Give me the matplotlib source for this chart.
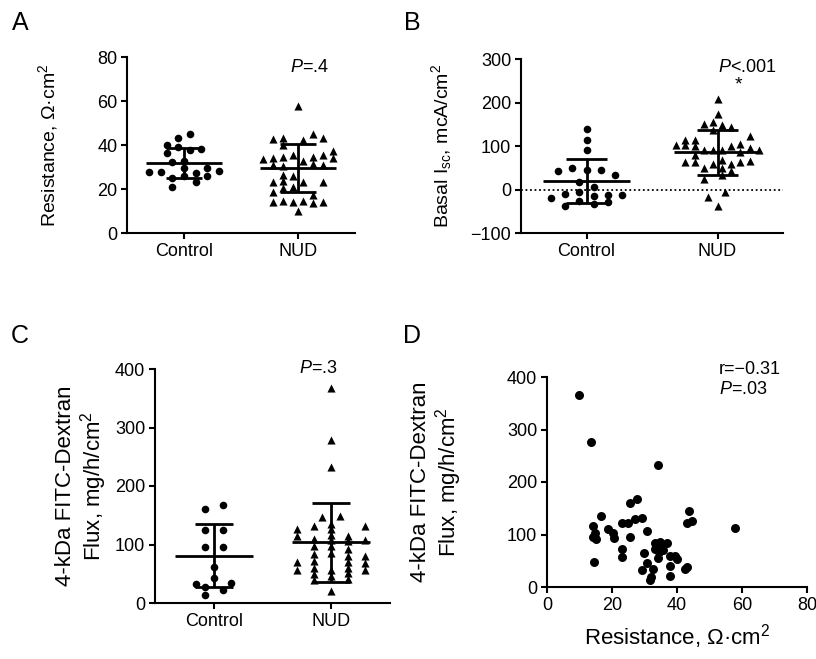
import numpy as np
import matplotlib
matplotlib.use("Agg")
import matplotlib.pyplot as plt

plt.rcParams['font.family'] = ['Liberation Sans', 'DejaVu Sans']
plt.rcParams['mathtext.fontset'] = 'custom'
plt.rcParams['mathtext.rm'] = 'Liberation Sans'
plt.rcParams['mathtext.it'] = 'Liberation Sans:italic'

groups = ['Control', 'NUD']

# A: resistance (value, swarm column)
a_ctrl = [45.0, 43.0, 39.8, 39.2, 37.7, 38.0, 36.2, 32.8, 32.2, 27.8,
          27.8, 28.1, 29.4, 29.7, 27.1, 25.2, 25.9, 25.9, 23.4, 21.0]
a_ctrl_col = [1, -1, -3, -1, 1, 3, -3, 0, -2, -6, -4, 6, 0, 4, 2, -2, 0, 4, 2, -2]
a_nud = [57.7, 42.7, 43.3, 40.0, 42.3, 44.9, 43.3, 33.6, 34.2, 34.7, 35.5, 32.7,
         34.7, 35.5, 37.3, 34.0, 30.9, 30.6, 31.2, 30.9, 26.4, 23.0, 23.6, 25.9,
         23.0, 23.0, 18.8, 20.6, 21.0, 14.0, 14.5, 14.0, 14.5, 17.3, 13.5, 14.0, 10.0]
a_nud_col = [0, -2.5, -1.5, -1.5, 0.5, 1.5, 2.5, -3.5, -2.5, -1.5, -0.5, 0.5,
             1.5, 2.5, 3.5, 3.5, -2.5, -1.5, 1.5, 2.5, -1.5, -2.5, -1.5, -0.5,
             0.5, 2.5, -2.5, -1.5, -0.5, -2.5, -1.5, -0.5, 0.5, 1.5, 1.5, 2.5, 0]
a_mean = [31.8, 29.4]
a_sd = [6.7, 10.95]

# B: basal Isc
b_ctrl = [138.5, 113, 90, 42.3, 50, 43.8, 43.8, 33.8, 16.9, 5.4,
          -20, -10, -6.2, -13.8, -11.5, -11.5, -39, -26.9, -33, -29.2]
b_ctrl_col = [0, 0, 0, -4, -2, 0, 2, 4, -1, 1, -5, -3, -1, 1, 3, 5, -3, -1, 1, 3]
b_nud = [207, 173, 151.5, 155.4, 147.7, 143.8, 136, 122.3, 101.5, 114.6, 113,
         101.5, 99.2, 90, 90, 90, 99.2, 105.4, 96.2, 90, 86.1, 78.5, 63, 63, 50,
         59.2, 68.5, 50, 57.7, 63, 65.3, 42.3, 32.3, 24.6, -17.7, -6.2, -39]
b_nud_col = [0, 0, -1.5, -0.5, 0.5, 1.5, -0.5, 3.5, -4.5, -3.5, -2.5,
             -3.5, -2.5, -1.5, -0.5, 0.5, 1.5, 2.5, 3.5, 4.5, 2.5, -2.5, -3.5, -2.5, -1.5,
             -0.5, 0.5, 0.5, 1.5, 2.5, 3.5, 1.5, 0.5, -1.5, -1, 0.8, 0]
b_mean = [19.2, 86.0]
b_sd = [50.2, 51.6]

# C: FITC-dextran flux
c_ctrl = [160.5, 167, 124, 124, 96, 96, 61, 42, 33, 27, 22, 34, 14]
c_ctrl_col = [-1, 1, -1, 1, -1, 1, 0, 0, -2, -1, 1, 2, -1]
c_nud = [126.3, 113.7, 69.3, 55.7,
         132.4, 109.6, 97.1, 84.6, 71.5, 60.1, 49.8, 40.1,
         367, 278.8, 233.2, 135.4, 126.3, 116.6, 107, 97.1, 85.7, 56.1, 45.8, 20.2,
         114.9, 105.2, 92.1, 80.7, 69.3, 59.6, 51, 40.8,
         131.3, 108.5, 80.7, 68.1, 55.6,
         146.8, 149]
c_nud_col = [-2] * 4 + [-1] * 8 + [0] * 12 + [1] * 8 + [2] * 5 + [-0.55, 0.5]
c_mean = [81, 104]
c_sd = [54.5, 67.4]

# D: resistance vs flux
d_res = [9.8, 13.4, 34.3, 27.6, 25.5, 43.7, 16.6, 29.3, 27.1, 44.5, 43.0, 23.2,
         24.8, 14.2, 14.8, 18.9, 20.4, 30.7, 57.8, 14.2, 15.0, 20.7, 25.5, 33.2,
         34.8, 36.8, 33.1, 34.4, 35.2, 35.6, 23.0, 23.2, 29.9, 37.8, 39.4, 39.9,
         34.1, 30.7, 14.6, 37.8, 29.1, 32.5, 43.0, 42.5, 32.0, 31.7, 37.8]
d_flux = [365.7, 276.8, 232.4, 167, 159.4, 145.3, 135.2, 131, 129, 125.7, 121.3, 121.3,
          121.3, 116.2, 103.4, 109.9, 103.4, 107.2, 111.7, 95.8, 90.8, 93.9, 95.8, 83.2,
          85.3, 83.2, 71.8, 67.3, 76.2, 70, 71.8, 57.7, 65.3, 59, 59, 52.7,
          54.6, 46.3, 48.2, 40, 32.4, 34.3, 37.5, 33.7, 19.7, 13.3, 21]

W, H = 816, 659
fig = plt.figure(figsize=(W / 100, H / 100), dpi=100)


def box(l, t, r, b):
    return [l / W, 1 - b / H, (r - l) / W, (b - t) / H]


def ftext(x, y, s, **kw):
    fig.text(x / W, 1 - y / H, s, **kw)


def style(ax):
    for side in ['top', 'right']:
        ax.spines[side].set_visible(False)
    for side in ['left', 'bottom']:
        ax.spines[side].set_linewidth(1.5)
    ax.tick_params(direction='out', length=4, width=1.5, labelsize=13, pad=3)


def dot_panel(ax, vals, cols, spacing, means, sds):
    markers = ['o', '^']
    sizes = [30, 34]
    for i in range(2):
        x = i + np.array(cols[i]) * spacing[i]
        ax.scatter(x, vals[i], marker=markers[i], s=sizes[i], color='black',
                   linewidths=0, zorder=3)
        lo, hi = means[i] - sds[i], means[i] + sds[i]
        ax.hlines(means[i], i - 0.33, i + 0.33, color='black', lw=2.0, zorder=4)
        ax.hlines([lo, hi], i - 0.16, i + 0.16, color='black', lw=2.0, zorder=4)
        ax.vlines(i, lo, hi, color='black', lw=2.0, zorder=4)
    ax.set_xlim(-0.5, 1.5)
    ax.set_xticks([0, 1])
    ax.set_xticklabels(groups)
    style(ax)


axA = fig.add_axes(box(127, 57, 355, 233))
dot_panel(axA, [a_ctrl, a_nud], [a_ctrl_col, a_nud_col], [0.051, 0.088], a_mean, a_sd)
axA.set_ylim(0, 80)
axA.set_yticks([0, 20, 40, 60, 80])

axB = fig.add_axes(box(521, 59, 783, 233))
dot_panel(axB, [b_ctrl, b_nud], [b_ctrl_col, b_nud_col], [0.054, 0.07], b_mean, b_sd)
axB.axhline(0, color='black', lw=1.3, ls=(0, (1, 1.5)), zorder=1)
axB.set_ylim(-100, 300)
axB.set_yticks([-100, 0, 100, 200, 300])

axC = fig.add_axes(box(155, 369, 390, 603))
dot_panel(axC, [c_ctrl, c_nud], [c_ctrl_col, c_nud_col], [0.075, 0.145], c_mean, c_sd)
axC.set_ylim(0, 400)
axC.set_yticks([0, 100, 200, 300, 400])

axD = fig.add_axes(box(547, 377, 807, 587))
axD.scatter(d_res, d_flux, s=42, color='black', linewidths=0, zorder=3)
axD.set_xlim(0, 80)
axD.set_ylim(0, 400)
axD.set_xticks([0, 20, 40, 60, 80])
axD.set_yticks([0, 100, 200, 300, 400])
style(axD)

# labels
ftext(48, 145, 'Resistance, Ω·cm$^2$', rotation=90, ha='center', va='center', fontsize=14)
ftext(442, 146, 'Basal I$_{\\mathrm{sc}}$, mcA/cm$^2$', rotation=90, ha='center', va='center', fontsize=14)
ftext(82, 486, '4-kDa FITC-Dextran\nFlux, mg/h/cm$^2$', rotation=90, ha='center', va='center',
      fontsize=16, linespacing=1.1)
ftext(437, 482, '4-kDa FITC-Dextran\nFlux, mg/h/cm$^2$', rotation=90, ha='center', va='center',
      fontsize=16, linespacing=1.1)
ftext(677, 637, 'Resistance, Ω·cm$^2$', ha='center', va='center', fontsize=16)

# panel letters
for x, y, s in [(20, 23, 'A'), (412, 23, 'B'), (20, 336, 'C'), (412, 336, 'D')]:
    ftext(x, y, s, ha='center', va='center', fontsize=18)

# statistics
ftext(290, 68, '$P$=.4', ha='left', va='center', fontsize=13)
ftext(718, 68, '$P$<.001', ha='left', va='center', fontsize=13)
ftext(738, 85, '*', ha='center', va='center', fontsize=14)
ftext(299, 368, '$P$=.3', ha='left', va='center', fontsize=13)
ftext(719, 370, 'r=−0.31', ha='left', va='center', fontsize=13)
ftext(719, 389, '$P$=.03', ha='left', va='center', fontsize=13)

fig.savefig('out.png', dpi=100)
